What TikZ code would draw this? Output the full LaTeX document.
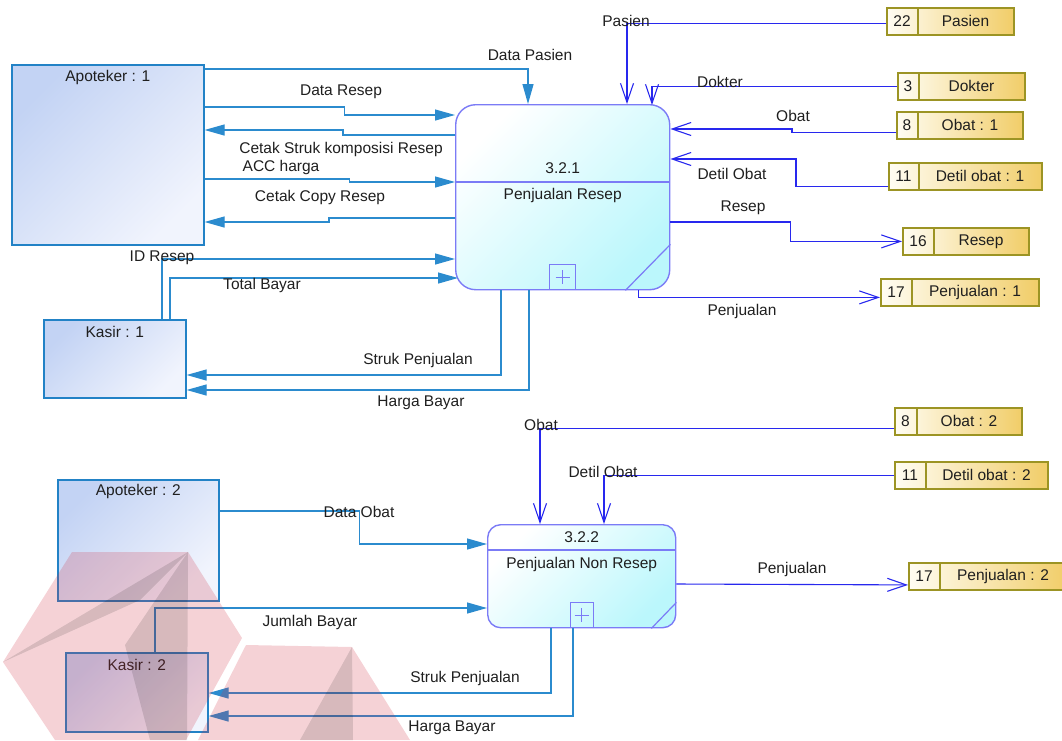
\documentclass[tikz,border=0pt]{standalone}
\usepackage{fontspec}
\setmainfont{Liberation Sans}
\usetikzlibrary{arrows.meta, calc}

\definecolor{entityline}{HTML}{2282C6}
\definecolor{entitytop}{HTML}{C3D3F4}
\definecolor{entitybottom}{HTML}{F1F4FD}
\definecolor{procline}{HTML}{7B7BF6}
\definecolor{proccyan}{HTML}{BBF7FC}
\definecolor{storeline}{HTML}{9C9424}
\definecolor{storecream}{HTML}{FFFDF3}
\definecolor{storegold}{HTML}{F1CD68}
\definecolor{flowblue}{HTML}{2B8BCE}
\definecolor{storeflowblue}{HTML}{2828EE}
\definecolor{logored}{HTML}{D03446}

\begin{document}
\begin{tikzpicture}[
        x=1pt, y=-1pt,
        font=\fontsize{15.5}{17}\selectfont,
        entitybox/.style={draw=entityline, line width=1.6pt, left color=entitytop, right color=entitybottom, shading angle=45, anchor=north west, inner sep=0pt},
        procbox/.style={draw=procline, line width=1.4pt, left color=white, right color=proccyan, shading angle=45, anchor=north west, inner sep=0pt},
        plusbox/.style={draw=procline, line width=1.2pt, anchor=south, minimum width=26, minimum height=25, inner sep=0pt},
        storebox/.style={draw=storeline, line width=1.8pt, left color=storecream, right color=storegold, anchor=north west, inner sep=0pt, minimum height=27},
        flow/.style={draw=flowblue, line width=1.2pt, -{Triangle[length=20pt, width=11pt]}},
        storeflow/.style={draw=storeflowblue, line width=1.1pt, -{Straight Barb[length=19pt, width=13pt]}},
        caption/.style={text=black!88, inner sep=0pt}
    ]
        \useasboundingbox (0, 0) rectangle (1062, 740);

        % external entities
        \node (apoteker_1) at (11, 64) [entitybox, minimum width=192, minimum height=180] {};
        \path (apoteker_1.north) + (0, 13) node [caption] (apoteker_1_label) {Apoteker : 1};
        \node (kasir_1) at (43, 319) [entitybox, minimum width=142, minimum height=78] {};
        \path (kasir_1.north) + (0, 13) node [caption] (kasir_1_label) {Kasir : 1};
        \node (apoteker_2) at (57, 479) [entitybox, minimum width=161, minimum height=121] {};
        \path (apoteker_2.north) + (0, 12) node [caption] (apoteker_2_label) {Apoteker : 2};
        \node (kasir_2) at (65, 652) [entitybox, minimum width=142, minimum height=79] {};
        \path (kasir_2.north) + (0, 13) node [caption] (kasir_2_label) {Kasir : 2};

        % processes
        \node (penjualan_resep) at (455, 104) [procbox, minimum width=214, minimum height=185, rounded corners=20] {};
        \draw [procline, line width=1.2pt] ($(penjualan_resep.north west)+(0, 78)$) -- ($(penjualan_resep.north east)+(0, 78)$);
        \draw [procline, line width=1.2pt] ($(penjualan_resep.south east)+(-45, 0)$) -- ($(penjualan_resep.south east)+(0, -46)$);
        \path (penjualan_resep.north) + (0, 64) node [caption] (penjualan_resep_id) {3.2.1};
        \path (penjualan_resep.north) + (0, 91) node [caption] (penjualan_resep_name) {Penjualan Resep};
        \node (penjualan_resep_plus) at (penjualan_resep.south) [plusbox] {};
        \draw [procline, line width=1pt] ($(penjualan_resep_plus.center)+(-7, 0)$) -- ++(14, 0)
            ($(penjualan_resep_plus.center)+(0, -7)$) -- ++(0, 14);

        \node (penjualan_non_resep) at (487, 524) [procbox, minimum width=188, minimum height=103, rounded corners=13] {};
        \draw [procline, line width=1.2pt] ($(penjualan_non_resep.north west)+(0, 26)$) -- ($(penjualan_non_resep.north east)+(0, 26)$);
        \draw [procline, line width=1.2pt] ($(penjualan_non_resep.south east)+(-25, 0)$) -- ($(penjualan_non_resep.south east)+(0, -26)$);
        \path (penjualan_non_resep.north) + (0, 13) node [caption] (penjualan_non_resep_id) {3.2.2};
        \path (penjualan_non_resep.north) + (0, 40) node [caption] (penjualan_non_resep_name) {Penjualan Non Resep};
        \node (penjualan_non_resep_plus) at (penjualan_non_resep.south) [plusbox, minimum width=23] {};
        \draw [procline, line width=1pt] ($(penjualan_non_resep_plus.center)+(-7, 0)$) -- ++(14, 0)
            ($(penjualan_non_resep_plus.center)+(0, -7)$) -- ++(0, 14);

        % data stores
        \foreach \name/\x/\y/\w/\idw/\id/\txt in {
                pasien/886/7/127/32/22/Pasien,
                dokter/897/72/127/22/3/Dokter,
                obat_1/896/111/126/22/8/Obat : 1,
                detil_obat_1/888/162/153/31/11/Detil obat : 1,
                resep/902/227/126/32/16/Resep,
                penjualan_1/880/278/158/32/17/Penjualan : 1,
                obat_2/894/407/127/23/8/Obat : 2,
                detil_obat_2/894/461/153/32/11/Detil obat : 2,
                penjualan_2/908/562/158/32/17/Penjualan : 2} {
            \node (\name) at (\x, \y) [storebox, minimum width=\w] {};
            \draw [storeline, line width=1.4pt] ($(\name.north west)+(\idw, 0)$) -- ($(\name.south west)+(\idw, 0)$);
            \path (\name.west) + (\idw/2, 0) node [caption] (\name_id) {\id};
            \path (\name.west) + ({(\w+\idw)/2}, 0) node [caption] (\name_text) {\txt};
        }

        % flows between entities and 3.2.1
        \draw [flow] ($(apoteker_1.north east)+(0, 5)$) -| ($(penjualan_resep.north west)+(73, 0)$);
        \draw [flow] ($(apoteker_1.north east)+(0, 43)$) -- ++(140, 0) |- ($(penjualan_resep.north west)+(0, 11)$);
        \draw [flow] ($(penjualan_resep.north west)+(0, 31)$) -- ++(-112, 0) |- ($(apoteker_1.north east)+(0, 66)$);
        \draw [flow] ($(apoteker_1.north east)+(0, 115)$) -- ++(145, 0) |- ($(penjualan_resep.north west)+(0, 78)$);
        \draw [flow] ($(penjualan_resep.north west)+(0, 114)$) -- ++(-126, 0) |- ($(apoteker_1.north east)+(0, 158)$);
        \draw [flow] ($(kasir_1.north west)+(119, 0)$) |- ($(penjualan_resep.north west)+(0, 155)$);
        \draw [flow] ($(kasir_1.north west)+(127, 0)$) |- ($(penjualan_resep.north west)+(3, 174)$);
        \draw [flow] ($(penjualan_resep.south west)+(46, 0)$) |- ($(kasir_1.north east)+(0, 56)$);
        \draw [flow] ($(penjualan_resep.south west)+(74, 0)$) |- ($(kasir_1.north east)+(0, 71)$);

        % flows between stores and 3.2.1
        \draw [storeflow] ($(pasien.west)+(0, 2)$) -| ($(penjualan_resep.north west)+(172, 0)$);
        \draw [storeflow] (dokter.west) -| ($(penjualan_resep.north west)+(197, 1)$);
        \draw [storeflow] ($(obat_1.west)+(0, 7)$) -- ++(-104, 0) |- ($(penjualan_resep.north east)+(0, 25)$);
        \draw [storeflow] ($(detil_obat_1.west)+(0, 10)$) -- ++(-92, 0) |- ($(penjualan_resep.north east)+(0, 55)$);
        \draw [storeflow] ($(penjualan_resep.north east)+(0, 118)$) -- ++(120, 0) |- (resep.west);
        \draw [storeflow] ($(penjualan_resep.south east)+(-32, 0)$) |- ($(penjualan_1.west)+(0, 5)$);

        % flows around 3.2.2
        \draw [flow] ($(apoteker_2.north east)+(0, 32)$) -- ++(140, 0) |- ($(penjualan_non_resep.north west)+(0, 20)$);
        \draw [flow] ($(kasir_2.north west)+(90, 0)$) |- ($(penjualan_non_resep.north west)+(0, 84)$);
        \draw [flow] ($(penjualan_non_resep.south west)+(64, 0)$) |- ($(kasir_2.north east)+(0, 41)$);
        \draw [flow] ($(penjualan_non_resep.south west)+(86, 0)$) |- ($(kasir_2.north east)+(0, 64)$);
        \draw [storeflow] ($(obat_2.west)+(0, 7)$) -| ($(penjualan_non_resep.north west)+(53, 0)$);
        \draw [storeflow] (detil_obat_2.west) -| ($(penjualan_non_resep.north west)+(117, 0)$);
        \draw [storeflow] ($(penjualan_non_resep.north east)+(0, 60)$) -- ($(penjualan_2.west)+(0, 8.5)$);

        % flow labels
        \node (lbl_data_pasien) at (530, 55) [caption] {Data Pasien};
        \node (lbl_data_resep) at (341, 92) [caption] {Data Resep};
        \node (lbl_cetak_struk) at (341, 149) [caption] {Cetak Struk komposisi Resep};
        \node (lbl_acc_harga) at (281, 167) [caption] {ACC harga};
        \node (lbl_cetak_copy) at (320, 197) [caption] {Cetak Copy Resep};
        \node (lbl_id_resep) at (162, 258) [caption] {ID Resep};
        \node (lbl_total_bayar) at (262, 285) [caption] {Total Bayar};
        \node (lbl_struk_1) at (418, 360) [caption] {Struk Penjualan};
        \node (lbl_harga_1) at (421, 403) [caption] {Harga Bayar};
        \node (lbl_pasien) at (626, 21) [caption] {Pasien};
        \node (lbl_dokter) at (720, 82) [caption] {Dokter};
        \node (lbl_obat_1) at (793, 116) [caption] {Obat};
        \node (lbl_detil_1) at (732, 174) [caption] {Detil Obat};
        \node (lbl_resep) at (743, 208) [caption] {Resep};
        \node (lbl_penjualan_1) at (742, 311) [caption] {Penjualan};
        \node (lbl_obat_2) at (541, 425) [caption] {Obat};
        \node (lbl_detil_2) at (603, 472) [caption] {Detil Obat};
        \node (lbl_penjualan_2) at (792, 569) [caption] {Penjualan};
        \node (lbl_data_obat) at (359, 512) [caption] {Data Obat};
        \node (lbl_jumlah_bayar) at (310, 622) [caption] {Jumlah Bayar};
        \node (lbl_struk_2) at (465, 678) [caption] {Struk Penjualan};
        \node (lbl_harga_2) at (452, 728) [caption] {Harga Bayar};

        % faint logo in the lower left corner
        \fill [logored, opacity=0.22] (3, 662) -- (72, 552) -- (188, 552) -- (242, 638) -- (186, 740) -- (55, 740) -- cycle;
        \fill [logored, opacity=0.22] (246, 645) -- (352, 647) -- (410, 740) -- (198, 740) -- cycle;
        \fill [black, opacity=0.12] (3, 662) -- (188, 552) -- (140, 600) -- cycle;
        \fill [black, opacity=0.12] (188, 552) -- (187, 740) -- (150, 740) -- (125, 645) -- cycle;
        \fill [black, opacity=0.12] (352, 647) -- (353, 740) -- (300, 740) -- cycle;
    \end{tikzpicture}
\end{document}
